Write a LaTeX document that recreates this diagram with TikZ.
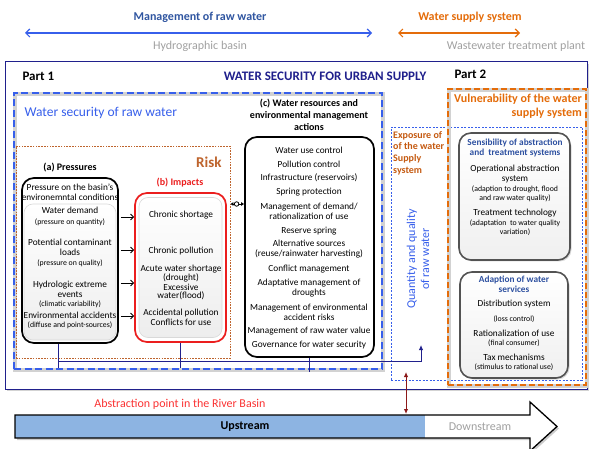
\documentclass[tikz,border=0pt]{standalone}
\usepackage{fontspec}
\setmainfont{Carlito}
\usetikzlibrary{arrows.meta,shadows}

\definecolor{navyline}{RGB}{32,32,140}
\definecolor{rawblue}{RGB}{55,95,235}
\definecolor{headblue}{RGB}{47,85,160}
\definecolor{supplyorange}{RGB}{228,108,10}
\definecolor{basingray}{RGB}{160,160,160}
\definecolor{riskbrown}{RGB}{190,100,45}
\definecolor{impactred}{RGB}{235,30,30}
\definecolor{exposebrown}{RGB}{197,90,17}
\definecolor{servblue}{RGB}{45,80,160}
\definecolor{abstred}{RGB}{250,50,50}
\definecolor{riverblue}{RGB}{141,180,226}
\definecolor{darkarrow}{RGB}{140,25,25}

\newcommand\txbody{\fontsize{9.3pt}{10pt}\selectfont}
\newcommand\txnote{\fontsize{7.8pt}{9pt}\selectfont}
\newcommand\txhead{\fontsize{10pt}{11.8pt}\selectfont\bfseries}
\newcommand\txbig{\fontsize{12pt}{14pt}\selectfont}

\tikzset{
  frame/.style={draw=navyline, line width=1pt, fill=white, inner sep=0pt,
    drop shadow={shadow xshift=2pt, shadow yshift=-2pt, opacity=0.35}},
  bluedash/.style={draw=rawblue, line width=2.2pt, dash pattern=on 7pt off 3.5pt, inner sep=0pt},
  orangedash/.style={draw=supplyorange, line width=2.2pt, dash pattern=on 6pt off 3pt, inner sep=0pt},
  dashshade/.style={draw=gray!35, line width=3.6pt},
  riskline/.style={draw=riskbrown, line width=0.8pt, dash pattern=on 1.6pt off 1.2pt, inner sep=0pt},
  expoline/.style={draw=rawblue, line width=0.7pt, dash pattern=on 2pt off 1.5pt, inner sep=0pt},
  roundbox/.style={draw, line width=1.7pt, rounded corners=12pt, fill=white, inner sep=0pt},
  innerbox/.style={draw=gray!30, line width=0.6pt, rounded corners=9pt, top color=white, bottom color=gray!14, inner sep=0pt},
  greybox/.style={draw=gray!65!black, line width=1.6pt, rounded corners=12pt, top color=white,
    bottom color=gray!12, inner sep=0pt, drop shadow={shadow xshift=1.5pt, shadow yshift=-1.5pt, opacity=0.3}},
  body/.style={font=\txbody, inner sep=0pt, align=center},
  note/.style={font=\txnote, inner sep=0pt, align=center},
  push/.style={-{Straight Barb[length=3pt,width=6pt]}, line width=0.9pt},
  feed/.style={draw=navyline, line width=1pt},
  span/.style={{Straight Barb[length=4pt,width=8pt]}-{Straight Barb[length=4pt,width=8pt]}, line width=1.2pt},
}

\begin{document}
\begin{tikzpicture}[x=1pt, y=-1pt]
    \useasboundingbox (0,0) rectangle (592,449);

    % scale of management along the river
    \node[font=\txbig\bfseries, text=headblue] (mgmt) at (200,17) {Management of raw water};
    \node[font=\txbig, text=basingray] (basin) at (200,46) {Hydrographic basin};
    \coordinate (mgmtL) at (25,33);
    \coordinate (mgmtR) at (372,33);
    \draw[span, draw=rawblue] (mgmtL) -- (mgmtR);
    \node[font=\txbig\bfseries, text=supplyorange] (supply) at (470,17) {Water supply system};
    \node[font=\txbig, text=basingray] (plant) at (516,46) {Wastewater treatment plant};
    \coordinate (supL) at (398,33);
    \coordinate (supR) at (520,33);
    \draw[span, draw=supplyorange] (supL) -- (supR);

    % containers
    \node[frame, minimum width=582pt, minimum height=327pt] (outer) at (296,225.5) {};
    \draw[dashshade] (15,94) rectangle (383,370);
    \node[bluedash, minimum width=368pt, minimum height=276pt] (rawsec) at (198,231) {};
    \node[riskline, minimum width=214pt, minimum height=212pt] (risk) at (123,252) {};
    \node[expoline, minimum width=191pt, minimum height=253pt] (expo) at (486.5,253.5) {};
    \draw[dashshade] (449,90) rectangle (587,386);
    \node[orangedash, minimum width=138pt, minimum height=296pt] (vuln) at (517,237) {};

    % part 1 boxes
    \node[roundbox, minimum width=96pt, minimum height=165pt] (press) at (70,260.5) {};
    \node[innerbox, minimum width=92pt, minimum height=136pt] (pressin) at (70,272) {};
    \node[roundbox, draw=impactred, minimum width=91pt, minimum height=149pt] (impact) at (180.5,267.5) {};
    \node[innerbox, minimum width=83pt, minimum height=140pt] (impactin) at (180.5,267.5) {};
    \node[roundbox, minimum width=129pt, minimum height=220pt] (acts) at (309.5,247) {};

    % part 2 boxes
    \node[greybox, minimum width=111pt, minimum height=127pt] (sens) at (514.5,196.5) {};
    \node[greybox, minimum width=108pt, minimum height=106pt] (adapt) at (514,325) {};

    % titles
    \node[font=\fontsize{13pt}{15pt}\selectfont\bfseries, anchor=west] (part1) at (19,76) {Part 1};
    \node[font=\fontsize{13pt}{15pt}\selectfont\bfseries, text=navyline] (title) at (325,76) {WATER SECURITY FOR URBAN SUPPLY};
    \node[font=\fontsize{13pt}{15pt}\selectfont\bfseries, anchor=west] (part2) at (451,74) {Part 2};
    \node[font=\fontsize{13.5pt}{15pt}\selectfont, text=rawblue, anchor=west] (rawtitle) at (21,113) {Water security of raw water};
    \node[font=\fontsize{15pt}{17pt}\selectfont\bfseries, text=riskbrown, anchor=east] (risktitle) at (225,162) {Risk};
    \node[font=\txhead, align=center] (actstitle) at (309,115) {(c) Water resources and\\environmental management\\actions};
    \node[font=\txhead] (presstitle) at (70,168) {(a) Pressures};
    \node[font=\txhead, text=impactred] (impacttitle) at (180,183) {(b) Impacts};
    \node[font=\txhead, text=exposebrown, align=left, anchor=north west, inner sep=0pt] (expotitle) at (393,131) {Exposure of\\of the water\\Supply\\system};
    \node[font=\fontsize{12pt}{13.5pt}\selectfont\bfseries, text=supplyorange, align=right, anchor=north east, inner sep=0pt] (vulntitle) at (582,94) {Vulnerability of the water\\supply system};
    \node[font=\txbig, text=rawblue, rotate=90, align=center] (qtytitle) at (418,259) {Quantity and quality\\of raw water};

    % (a) pressures
    \node[body] (p0) at (70,192) {Pressure on the basin's\\environemntal conditions};
    \node[body] (p1) at (70,210) {Water demand};
    \node[note] (p1n) at (70,222) {(pressure on quantity)};
    \node[body] (p2) at (70,247.5) {Potential contaminant\\loads};
    \node[note] (p2n) at (70,263) {(pressure on quality)};
    \node[body] (p3) at (70,289) {Hydrologic extreme\\events};
    \node[note] (p3n) at (70,304) {(climatic variability)};
    \node[body] (p4) at (70,315) {Environmental accidents};
    \node[note] (p4n) at (70,325) {(diffuse and point-sources)};

    % (b) impacts
    \node[body] (i1) at (181,215) {Chronic shortage};
    \node[body] (i2) at (181,251) {Chronic pollution};
    \node[body] (i3) at (181,269) {Acute water shortage};
    \node[body] (i4) at (181,278) {(drought)};
    \node[body] (i5) at (181,287) {Excessive};
    \node[body] (i6) at (181,295.5) {water(flood)};
    \node[body] (i7) at (181,313) {Accidental pollution};
    \node[body] (i8) at (181,322) {Conflicts for use};

    % (c) actions
    \node[body] (c1) at (309,150) {Water use control};
    \node[body] (c2) at (309,164) {Pollution control};
    \node[body] (c3) at (309,178) {Infrastructure (reservoirs)};
    \node[body] (c4) at (309,192) {Spring protection};
    \node[body] (c5) at (309,211.5) {Management of demand/\\rationalization of use};
    \node[body] (c6) at (309,231) {Reserve spring};
    \node[body] (c7) at (309,249.5) {Alternative sources\\(reuse/rainwater harvesting)};
    \node[body] (c8) at (309,269) {Conflict management};
    \node[body] (c9) at (309,288) {Adaptative management of\\droughts};
    \node[body] (c10) at (309,312) {Management of environmental\\accident risks};
    \node[body] (c11) at (309,331) {Management of raw water value};
    \node[body] (c12) at (309,345) {Governance for water security};

    % sensibility of the systems
    \node[body, font=\txbody\bfseries, text=servblue] (s0) at (515,148) {Sensibility of abstraction\\and~ treatment systems};
    \node[body] (s1) at (515,174) {Operational abstraction\\system};
    \node[note] (s1n) at (515,193.5) {(adaption to drought, flood\\and raw water quality)};
    \node[body] (s2) at (515,213) {Treatment technology};
    \node[note] (s2n) at (515,227.5) {(adaptation~ to water quality\\variation)};

    % adaption of the services
    \node[body, font=\txbody\bfseries, text=servblue] (d0) at (514,284) {Adaption of water\\services};
    \node[body] (d1) at (514,304) {Distribution system};
    \node[note] (d1n) at (514,319) {(loss control)};
    \node[body] (d2) at (514,333) {Rationalization of use};
    \node[note] (d2n) at (514,343) {(final consumer)};
    \node[body] (d3) at (514,357) {Tax mechanisms};
    \node[note] (d3n) at (514,367) {(stimulus to rational use)};

    % pressures lead to impacts
    \draw[push] (press.east |- 0,217) ++(2,0) -- (impact.west |- 0,217);
    \draw[push] (press.east |- 0,250) ++(2,0) -- (impact.west |- 0,250);
    \draw[push] (press.east |- 0,283) ++(2,0) -- (impact.west |- 0,283);
    \draw[push] (press.east |- 0,316) ++(2,0) -- (impact.west |- 0,316);

    % risk and actions, both ways
    \draw[line width=0.9pt, {Latex[length=3pt,width=4pt]}-{Latex[length=3pt,width=4pt]}] (risk.east |- 0,204) -- (acts.west |- 0,204)
        node[pos=0.45, circle, draw, fill=white, line width=0.8pt, minimum size=4.5pt, inner sep=0pt] (hinge) {};

    % feedback to the quantity and quality of raw water
    \coordinate (loopL) at (58,361);
    \coordinate (qty) at (421,345);
    \draw[feed] ([xshift=-12pt]press.south) -- ++(0,24);
    \draw[feed] (impact.south) -- ++(0,25);
    \draw[feed] (acts.south) -- ++(0,14);
    \draw[feed, -{Latex[length=5pt,width=4.5pt]}] (loopL) -| (qty);

    % river from upstream to downstream
    \fill[gray!40] (17,417) -- (532,417) -- (532,404) -- (559,428.5) -- (532,453) -- (532,440) -- (17,440) -- cycle;
    \fill[white] (15,415) -- (530,415) -- (530,402) -- (557,426.5) -- (530,451) -- (530,438) -- (15,438) -- cycle;
    \fill[riverblue] (15,415) rectangle (425,438);
    \draw[line width=1.3pt] (15,415) -- (530,415) -- (530,402) -- (557,426.5) -- (530,451) -- (530,438) -- (15,438) -- cycle;
    \node[font=\txbig\bfseries] (up) at (245,427) {Upstream};
    \node[font=\txbig, text=basingray] (down) at (480,427) {Downstream};
    \node[font=\txbig, text=abstred] (abst) at (180,404) {Abstraction point in the River Basin};
    \coordinate (absT) at (406,372);
    \coordinate (absB) at (406,414);
    \draw[darkarrow, line width=1pt, {Latex[length=5pt,width=4.5pt]}-{Latex[length=5pt,width=4.5pt]}] (absT) -- (absB);
\end{tikzpicture}
\end{document}
